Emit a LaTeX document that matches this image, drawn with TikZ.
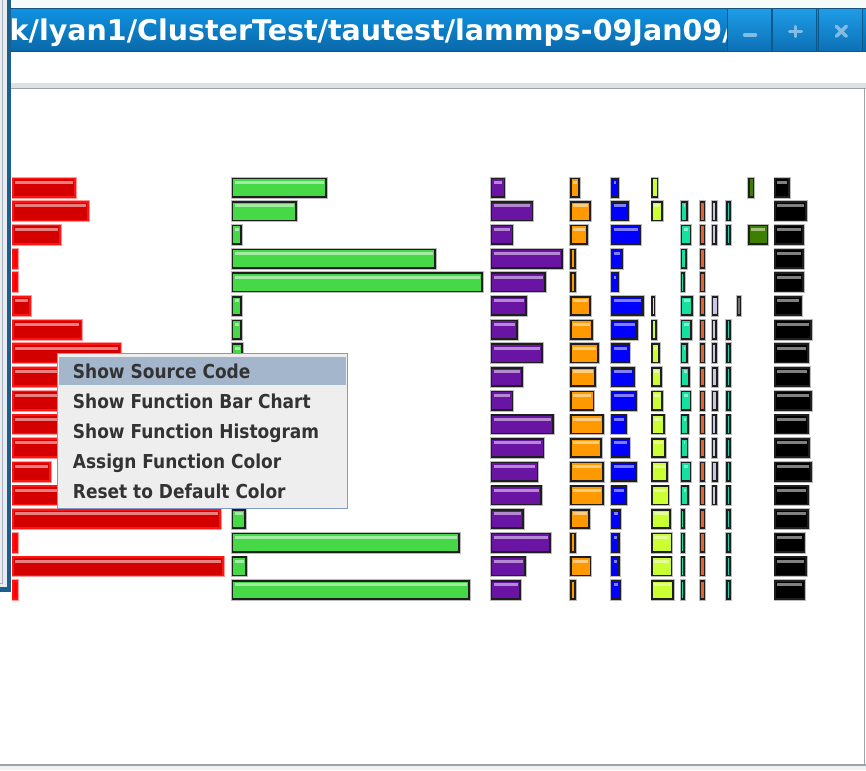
\documentclass[tikz,border=0pt]{standalone}
\usepackage{fontspec}
\newfontfamily\titlefont{DejaVu Sans}
\newfontfamily\menufont[FakeStretch=0.886]{DejaVu Sans Bold}
\definecolor{topstrip}{HTML}{F4FBF9}
\definecolor{tbtop}{HTML}{0F92E2}
\definecolor{tbbot}{HTML}{0A68A8}
\definecolor{tbedge}{HTML}{16557F}
\definecolor{btntop}{HTML}{1E9CE6}
\definecolor{btnbot}{HTML}{0C70B6}
\definecolor{btnedge}{HTML}{0B5A8E}
\definecolor{iconcol}{HTML}{7FBDE6}
\definecolor{sepband}{HTML}{DEE1E4}
\definecolor{sepline}{HTML}{9BA3AB}
\definecolor{leftbg}{HTML}{E8ECF0}
\definecolor{leftline}{HTML}{A9B3BD}
\definecolor{leftblue}{HTML}{1B5F8E}
\definecolor{menubg}{HTML}{EEEEEE}
\definecolor{menuborder}{HTML}{7E9AC8}
\definecolor{menuhl}{HTML}{A4B6CC}
\definecolor{menutext}{HTML}{333333}
\definecolor{redfill}{HTML}{D40000}
\definecolor{redborder}{HTML}{FF1414}
\definecolor{redhalo}{HTML}{FF9A9A}
\definecolor{barborder}{HTML}{1E1E1E}
\definecolor{barhalo}{HTML}{BBBBBB}
\definecolor{cgreen}{HTML}{46D846}
\definecolor{cpurple}{HTML}{6A14A4}
\definecolor{corange}{HTML}{FF9900}
\definecolor{cblue}{HTML}{0000FF}
\definecolor{cchart}{HTML}{CCFF33}
\definecolor{cmint}{HTML}{14E0A0}
\definecolor{cburnt}{HTML}{E5632E}
\definecolor{clav}{HTML}{CCC4E4}
\definecolor{cteal}{HTML}{20D0B0}
\definecolor{cgray}{HTML}{707070}
\definecolor{cdgreen}{HTML}{3F7F00}
\definecolor{cblack}{HTML}{000000}
\newcommand\pbar[6]{%
  \pgfmathsetmacro\pbtop{177.5+23.68*#3}%
  \pgfmathsetmacro\pbw{#2-#1}%
  \draw[#6,line width=0.8] (#1-0.4,\pbtop-0.4) rectangle (#2+0.4,\pbtop+20.4);
  \fill[#4] (#1,\pbtop) rectangle (#2,\pbtop+20);
  \ifdim\pbw pt>7pt \fill[white,opacity=0.5] (#1+3,\pbtop+3.3) rectangle (#2-3,\pbtop+6.3);\fi
  \draw[#5,line width=1.6] (#1+0.8,\pbtop+0.8) rectangle (#2-0.8,\pbtop+19.2);
}
\tikzset{
  menuitem/.style={anchor=base west,inner sep=0,text=menutext,font=\menufont\fontsize{19.2}{22}\selectfont},
  icon/.style={iconcol,line width=3.4,line cap=round}
}
\begin{document}
\begin{tikzpicture}[x=1pt,y=-1pt]
\useasboundingbox (0,0) rectangle (866,770);
\fill[white] (0,0) rectangle (866,770);
\fill[topstrip] (0,0) rectangle (866,8.3);
% title bar
\shade[top color=tbtop,bottom color=tbbot] (11,8.3) rectangle (866,51.7);
\node[anchor=base west,inner sep=0,text=white,font=\titlefont\bfseries\fontsize{28.5}{30}\selectfont] (title) at (9.5,40.2) {k/lyan1/ClusterTest/tautest/lammps-09Jan09/};
\foreach \bx in {727.7,772.7,818.3}{
  \shade[top color=btntop,bottom color=btnbot] (\bx,9) rectangle (\bx+44,51);
  \draw[btnedge,line width=1] (\bx,9) -- (\bx,51) (\bx+44,9) -- (\bx+44,51);
}
\draw[tbedge,line width=1] (11,8.8) -- (866,8.8);
\draw[tbedge,line width=1] (11,51.2) -- (866,51.2);
\draw[icon] (744.5,35) -- (755.5,35);
\draw[icon] (789.5,31.5) -- (801.5,31.5) (795.5,26.5) -- (795.5,36.5);
\draw[icon] (836.3,26.3) -- (846.3,36.3) (846.3,26.3) -- (836.3,36.3);
% separator and panel frame
\fill[sepband] (11,82.7) rectangle (866,87.6);
\draw[sepline,line width=1] (11,88.3) -- (866,88.3);
\draw[sepline,line width=1.6] (864.4,88.3) -- (864.4,765);
\draw[sepline,line width=1.6] (0,765) -- (866,765);
\fill[leftbg!70] (0,765.8) rectangle (866,770);
% red column
\foreach \r/\xr in {0/76,1/88.7,2/60.7,5/31,6/82.3,7/121.3,8/140,9/150,10/120,11/130,12/51,13/100,14/221,16/224}
  {\pbar{12.3}{\xr}{\r}{redfill}{redborder}{redhalo}}
\foreach \r in {3,4,15,17}
  {\pbar{12.3}{18.3}{\r}{red}{redborder}{redhalo}}
% green column
\foreach \r/\xr in {0/327,1/297,2/241.5,3/436,4/483,5/241.5,6/241.5,7/243,8/241,9/241,10/241,11/241,12/241,13/241,14/246,15/460,16/247,17/470}
  {\pbar{231.5}{\xr}{\r}{cgreen}{barborder}{barhalo}}
% purple column
\foreach \r/\xr in {0/505.3,1/533.3,2/513.3,3/562.7,4/545.7,5/527,6/517.7,7/542.7,8/522.7,9/513.3,10/554,11/544.3,12/538.3,13/541.7,14/524,15/550.7,16/525.7,17/521}
  {\pbar{490.7}{\xr}{\r}{cpurple}{barborder}{barhalo}}
% orange column
\foreach \r/\xr in {0/580,1/591,2/588,3/575.7,4/575.7,5/591,6/592.7,7/598.7,8/595.7,9/594.3,10/603.7,11/602,12/603.7,13/603.7,14/589.7,15/575.7,16/591.3,17/575.7}
  {\pbar{570}{\xr}{\r}{corange}{barborder}{barhalo}}
% blue column
\foreach \r/\xr in {0/619.3,1/628.7,2/641,3/622.7,4/619.3,5/644,6/638,7/630.3,8/634.7,9/636.7,10/627.3,11/630.3,12/636.7,13/627.3,14/621,15/619.7,16/619.7,17/621}
  {\pbar{610.7}{\xr}{\r}{cblue}{barborder}{barhalo}}
% chartreuse column
\foreach \r/\xr in {0/658.3,1/662.7,5/655.3,6/656.7,7/660,8/661.7,9/663,10/664.7,11/666,12/667.7,13/669.3,14/670.7,15/672.3,16/672.3,17/673.7}
  {\pbar{651.3}{\xr}{\r}{cchart}{barborder}{barhalo}}
% mint column
\foreach \r/\xr in {1/688,2/691.3,3/686.7,4/685,5/692.7,6/691.7,7/688,8/689.7,9/691.3,10/688.7,11/688.3,12/691.3,13/688.7,14/685,15/685,16/685,17/685}
  {\pbar{680.7}{\xr}{\r}{cmint}{barborder}{barhalo}}
% burnt orange column
\foreach \r in {1,...,17}
  {\pbar{699.7}{705.3}{\r}{cburnt}{barborder}{barhalo}}
% lavender column
\foreach \r/\xr in {1/716.7,2/716.7,5/718.3,6/716.7,7/716.7,8/717.7,9/717.7,10/716.7,11/716.7,12/717.7,13/716.7}
  {\pbar{711.7}{\xr}{\r}{clav}{barborder}{barhalo}}
% teal thin column
\foreach \r in {1,2,6,7,8,9,10,11,12,13,14,15,16,17}
  {\pbar{726}{730.7}{\r}{cteal}{barborder}{barhalo}}
% gray
\pbar{736.7}{741.3}{5}{cgray}{barborder}{barhalo}
% dark green
\foreach \r/\xr in {0/754.3,2/768.3}
  {\pbar{748}{\xr}{\r}{cdgreen}{barborder}{barhalo}}
% black column
\foreach \r/\xr in {0/790,1/807,2/804,3/804,4/804,5/802.3,6/812,7/808.7,8/810.3,9/812,10/808.7,11/810,12/812,13/808.7,14/808.7,15/805.3,16/807,17/805.3}
  {\pbar{774.3}{\xr}{\r}{cblack}{barborder}{barhalo}}
% context menu
\draw[fill=menubg,draw=menuborder,line width=1] (57.2,353.2) rectangle (347.8,508.8);
\fill[menuhl] (58.6,357) rectangle (346.4,385);
\node[menuitem] (m1) at (72.7,378.6) {Show Source Code};
\node[menuitem] (m2) at (72.7,408.6) {Show Function Bar Chart};
\node[menuitem] (m3) at (72.7,438.6) {Show Function Histogram};
\node[menuitem] (m4) at (72.7,468.6) {Assign Function Color};
\node[menuitem] (m5) at (72.7,498.6) {Reset to Default Color};
% left window remnant
\fill[leftbg] (0,0) rectangle (6.5,586.7);
\draw[leftline,line width=1] (0,583.5) -- (2.5,583.5) -- (2.5,0);
\fill[leftblue] (6.5,0) rectangle (11.3,592.3);
\fill[leftblue] (0,586.7) rectangle (11.3,592.3);
\end{tikzpicture}
\end{document}
